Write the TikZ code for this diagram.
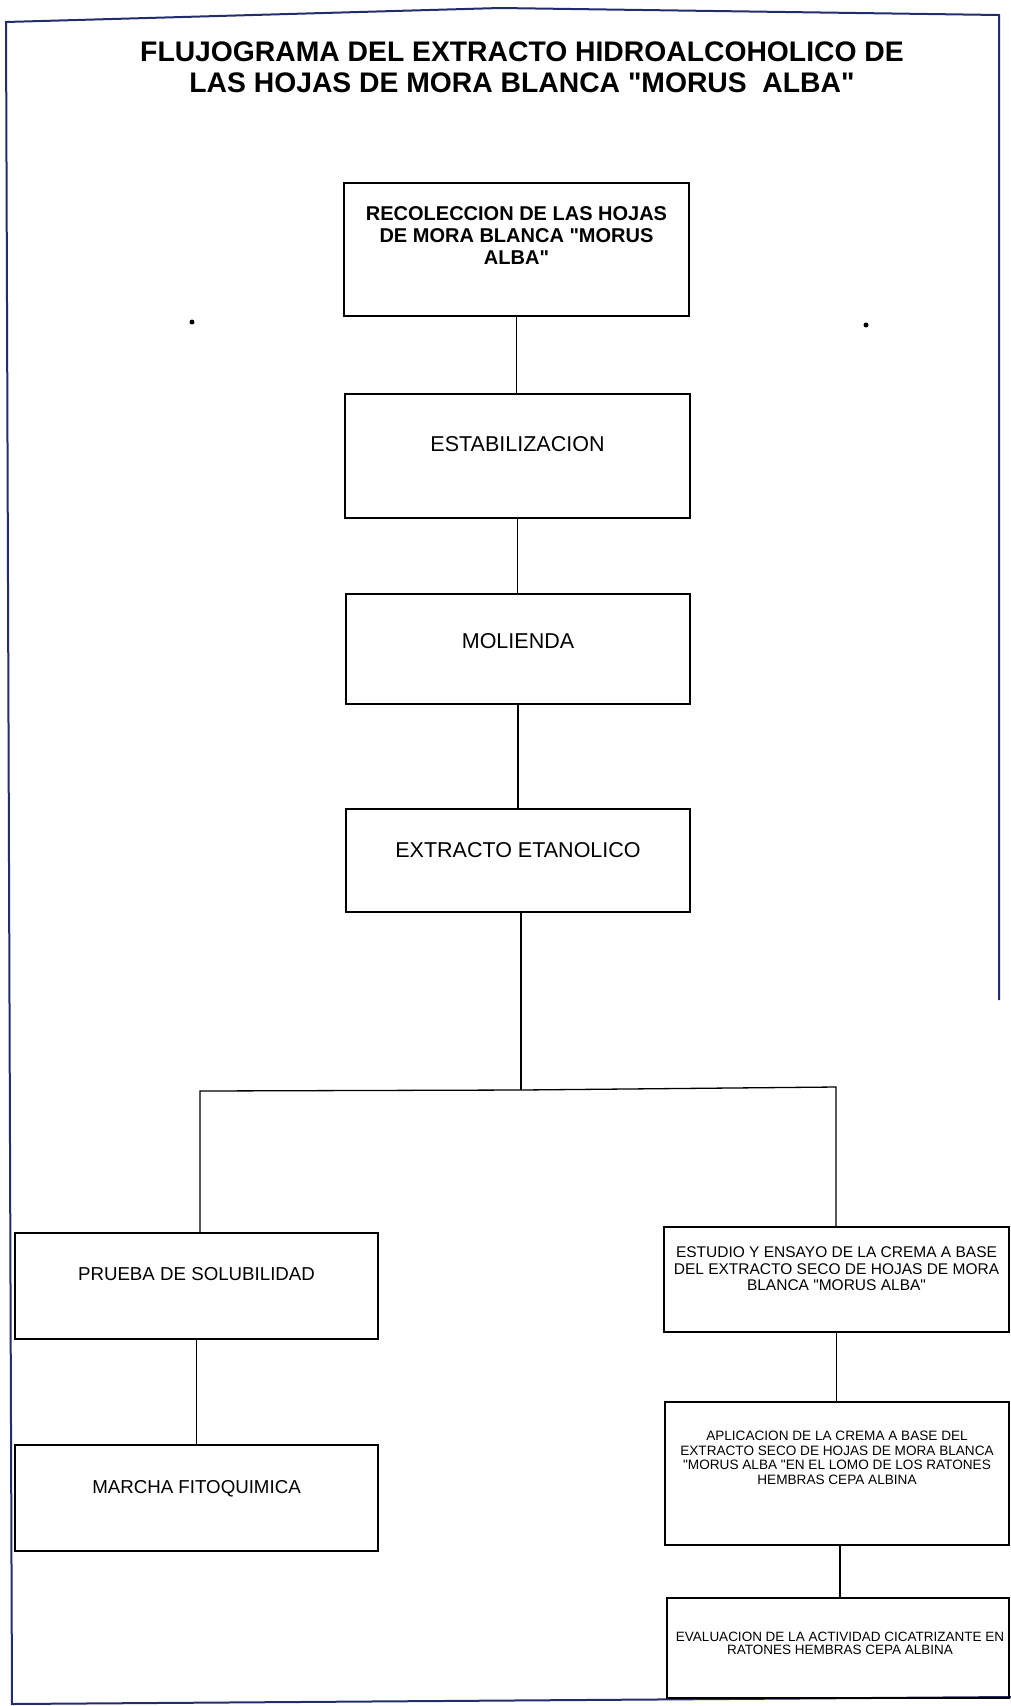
\documentclass[tikz,border=0pt]{standalone}
\usepackage{fontspec}
\setmainfont{Liberation Sans}[Ligatures=TeXOff]
\definecolor{marco}{RGB}{35,45,110}
\begin{document}
\begin{tikzpicture}[x=1pt,y=-1pt,
    caja/.style={draw, rectangle, line width=1.3pt, inner sep=0pt},
    linea/.style={line width=1.3pt},
    texto/.style={align=center, inner sep=0pt}]
  \useasboundingbox (0,0) rectangle (1011,1706);
  % marco de la hoja
  \draw[marco, line width=2pt] (999,1000) -- (999,15) -- (500,8) -- (6,22) -- (12,1704) -- (1011,1697);
  % titulo
  \node[texto, font=\bfseries\fontsize{28.3}{31}\selectfont] (titulo) at (522,67.5)
    {FLUJOGRAMA DEL EXTRACTO HIDROALCOHOLICO DE\\LAS HOJAS DE MORA BLANCA "MORUS\ \ ALBA"};
  % cajas centrales
  \node[caja, minimum width=345, minimum height=133] (recol) at (516.5,249.5) {};
  \node[caja, minimum width=345, minimum height=124] (estab) at (517.5,456) {};
  \node[caja, minimum width=344, minimum height=110] (moli) at (518,649) {};
  \node[caja, minimum width=344, minimum height=103] (extr) at (518,860.5) {};
  \node[texto, font=\bfseries\fontsize{20}{22}\selectfont] (recoltxt) at ([yshift=13.5pt]recol.center)
    {RECOLECCION DE LAS HOJAS\\DE MORA BLANCA "MORUS\\ALBA"};
  \node[texto, font=\fontsize{21.5}{24}\selectfont] (estabtxt) at ([yshift=12pt]estab.center) {ESTABILIZACION};
  \node[texto, font=\fontsize{21.5}{24}\selectfont] (molitxt) at ([yshift=8pt]moli.center) {MOLIENDA};
  \node[texto, font=\fontsize{21.5}{24}\selectfont] (extrtxt) at ([yshift=10.5pt]extr.center) {EXTRACTO ETANOLICO};
  % rama izquierda
  \node[caja, minimum width=363, minimum height=106] (prueba) at (196.5,1286) {};
  \node[caja, minimum width=363, minimum height=106] (marcha) at (196.5,1498) {};
  \node[texto, font=\fontsize{18.7}{21}\selectfont] (pruebatxt) at ([yshift=12pt]prueba.center) {PRUEBA DE SOLUBILIDAD};
  \node[texto, font=\fontsize{18.7}{21}\selectfont] (marchatxt) at ([yshift=9pt]marcha.center) {MARCHA FITOQUIMICA};
  % rama derecha
  \node[caja, minimum width=345, minimum height=105] (estudio) at (836.5,1279.5) {};
  \node[caja, minimum width=344, minimum height=143] (aplic) at (837,1473.5) {};
  \node[caja, minimum width=342, minimum height=100] (evalu) at (838,1648) {};
  \node[texto, font=\fontsize{15.5}{16.5}\selectfont] (estudiotxt) at ([yshift=10.5pt]estudio.center)
    {ESTUDIO Y ENSAYO DE LA CREMA A BASE\\DEL EXTRACTO SECO DE HOJAS DE MORA\\BLANCA "MORUS ALBA"};
  \node[texto, font=\fontsize{13.6}{14.5}\selectfont] (aplictxt) at ([yshift=15.5pt]aplic.center)
    {APLICACION DE LA CREMA A BASE DEL\\EXTRACTO SECO DE HOJAS DE MORA BLANCA\\"MORUS ALBA "EN EL LOMO DE LOS RATONES\\HEMBRAS CEPA ALBINA};
  \node[texto, font=\fontsize{13.5}{13}\selectfont] (evalutxt) at ([yshift=4.5pt,xshift=2pt]evalu.center)
    {EVALUACION DE LA ACTIVIDAD CICATRIZANTE EN\\RATONES HEMBRAS CEPA ALBINA};
  % conectores
  \draw[linea] (recol.south) -- (recol.south |- estab.north);
  \draw[linea] (estab.south) -- (estab.south |- moli.north);
  \draw[linea] (moli.south) -- (moli.south |- extr.north);
  \coordinate (rama) at (521,1090);
  \coordinate (ramaizq) at (200,1091);
  \coordinate (ramader) at (836,1087);
  \draw[linea] (rama |- extr.south) -- (rama);
  \draw[linea] (ramaizq |- prueba.north) -- (ramaizq) -- (rama) -- (ramader) -- (ramader |- estudio.north);
  \draw[linea] (prueba.south) -- (prueba.south |- marcha.north);
  \draw[linea] (estudio.south) -- (estudio.south |- aplic.north);
  \draw[linea] ([xshift=3pt]aplic.south) -- ([xshift=3pt]aplic.south |- evalu.north);
  % puntos sueltos
  \fill (192,322) circle (2.5pt);
  \fill (866,325) circle (2.5pt);
\end{tikzpicture}
\end{document}
